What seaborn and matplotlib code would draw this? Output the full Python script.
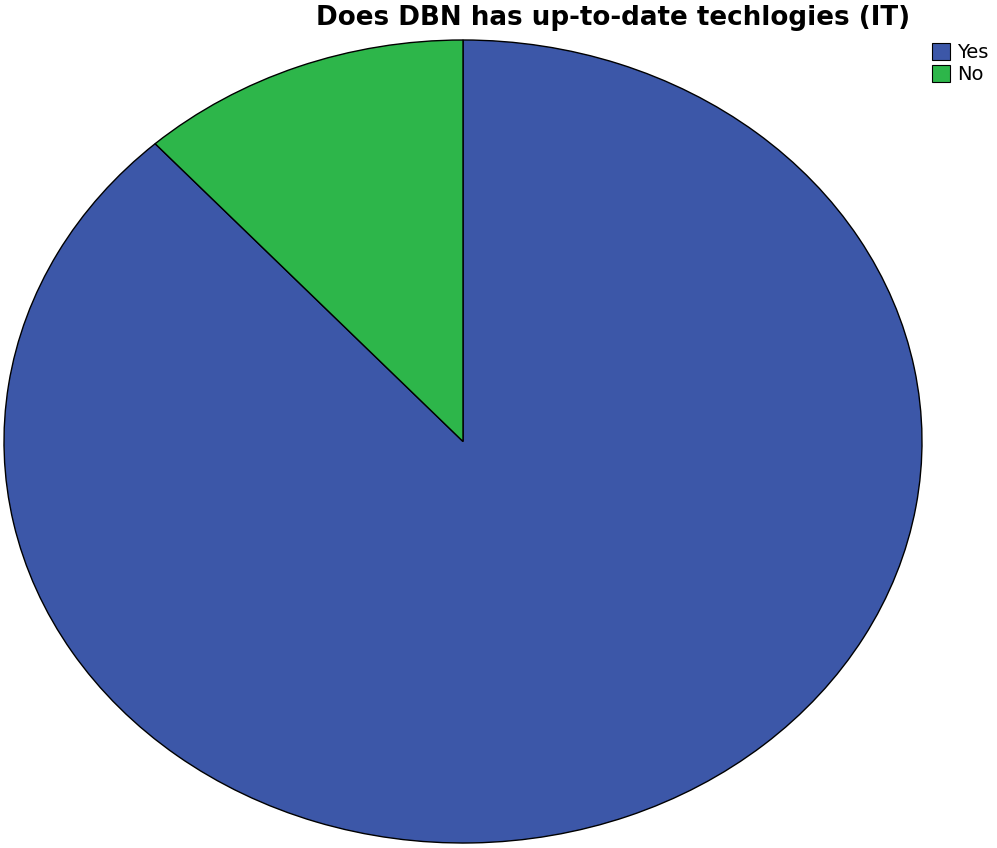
import matplotlib
matplotlib.use("Agg")
import matplotlib.pyplot as plt
import seaborn as sns
from matplotlib.patches import Patch

categories = ["Yes", "No"]
values = [88.3, 11.7]
colors = ["#3C57A8", "#2DB64A"]
title = "Does DBN has up-to-date techlogies (IT)"

sns.set_theme(style="white")
plt.rcParams['font.family'] = ['DejaVu Sans']
plt.rcParams['text.color'] = 'black'

fig = plt.figure(figsize=(9.97, 8.48), dpi=100)
ax = fig.add_axes([4/997, 5/848, 918/997, 803/848])
wedges, _ = ax.pie(values, colors=colors, startangle=90, counterclock=False,
                   wedgeprops=dict(edgecolor="black", linewidth=1.0))
ax.set_aspect('auto')
ax.set_xlim(-1.0, 1.0)
ax.set_ylim(-1.0, 1.0)
ax.axis('off')

fig.text(613/997, 1 - 18/848, title, ha='center', va='center',
         fontsize=18.8, fontweight='bold', color='black')

handles = [Patch(facecolor=c, edgecolor='black', linewidth=0.8, label=l)
           for c, l in zip(colors, categories)]
leg = fig.legend(handles=handles, loc='upper left', bbox_to_anchor=(932/997, 1 - 43/848),
                 frameon=False, fontsize=14, handlelength=0.95, handleheight=0.95,
                 handletextpad=0.35, labelspacing=0.15, borderpad=0.0, borderaxespad=0.0)
for t in leg.get_texts():
    t.set_color('black')

fig.savefig("out.png", dpi=100)
